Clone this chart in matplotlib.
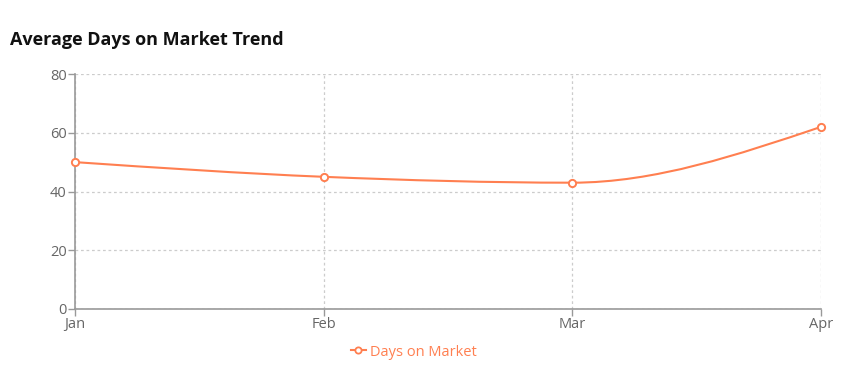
import numpy as np
import matplotlib
matplotlib.use("Agg")
import matplotlib.pyplot as plt
from matplotlib.path import Path
from matplotlib.patches import PathPatch
from matplotlib.lines import Line2D

months = ["Jan", "Feb", "Mar", "Apr"]
days_on_market = [50, 45, 43, 62]
y_ticks = [0, 20, 40, 60, 80]
series_name = "Days on Market"
title = "Average Days on Market Trend"

LINE = "#ff7f50"
AX = "#999999"
TXT = "#666666"
GRID = "#cccccc"

plt.rcParams['font.family'] = ['Open Sans', 'DejaVu Sans']

W, H = 842, 381
fig = plt.figure(figsize=(W / 100, H / 100), dpi=100)
ax = fig.add_axes([75 / W, (H - 309) / H, (821 - 75) / W, (309 - 74) / H])

x = np.arange(len(months), dtype=float)
y = np.array(days_on_market, dtype=float)


def monotone_tangents(x, y):
    n = len(x)
    t = np.zeros(n)
    for i in range(1, n - 1):
        h0 = x[i] - x[i - 1]
        h1 = x[i + 1] - x[i]
        s0 = (y[i] - y[i - 1]) / h0
        s1 = (y[i + 1] - y[i]) / h1
        p = (s0 * h1 + s1 * h0) / (h0 + h1)
        t[i] = (np.sign(s0) + np.sign(s1)) * min(abs(s0), abs(s1), 0.5 * abs(p))
    h = x[1] - x[0]
    t[0] = (3 * (y[1] - y[0]) / h - t[1]) / 2
    h = x[-1] - x[-2]
    t[-1] = (3 * (y[-1] - y[-2]) / h - t[-2]) / 2
    return t


t = monotone_tangents(x, y)
verts = [(x[0], y[0])]
codes = [Path.MOVETO]
for i in range(len(x) - 1):
    dx = (x[i + 1] - x[i]) / 3
    verts += [(x[i] + dx, y[i] + dx * t[i]),
              (x[i + 1] - dx, y[i + 1] - dx * t[i + 1]),
              (x[i + 1], y[i + 1])]
    codes += [Path.CURVE4] * 3
ax.add_patch(PathPatch(Path(verts, codes), facecolor="none", edgecolor=LINE,
                       lw=1.5, zorder=3))
ax.plot(x, y, linestyle="none", marker="o", markersize=5.2,
        markerfacecolor="white", markeredgecolor=LINE, markeredgewidth=1.4,
        zorder=4, clip_on=False)

ax.set_xlim(x[0], x[-1])
ax.set_ylim(y_ticks[0], y_ticks[-1])
ax.set_xticks(x)
ax.set_xticklabels(months)
ax.set_yticks(y_ticks)

ax.grid(True, color=GRID, linestyle=(0, (2.2, 2.2)), linewidth=0.9)
ax.set_axisbelow(True)
for s in ["top", "right"]:
    ax.spines[s].set_visible(False)
for s in ["left", "bottom"]:
    ax.spines[s].set_color(AX)
    ax.spines[s].set_linewidth(1.2)
ax.tick_params(axis="both", colors=AX, length=5, width=1, labelcolor=TXT,
               labelsize=10.5)
ax.tick_params(axis="x", pad=1)
ax.tick_params(axis="y", pad=1)

fig.text(10 / W, 1 - 40 / H, title, fontsize=13, fontweight="bold",
         color="#111111", ha="left", va="center")

handle = Line2D([0], [0], color=LINE, lw=1.5, marker="o", markersize=4.5,
                markerfacecolor="white", markeredgecolor=LINE,
                markeredgewidth=1.3)
fig.legend([handle], [series_name], loc="center", bbox_to_anchor=(414 / W, 1 - 352 / H),
           frameon=False, fontsize=10.5, labelcolor=LINE, handlelength=1.0,
           handletextpad=0.3)

fig.savefig("out.png", dpi=100)
